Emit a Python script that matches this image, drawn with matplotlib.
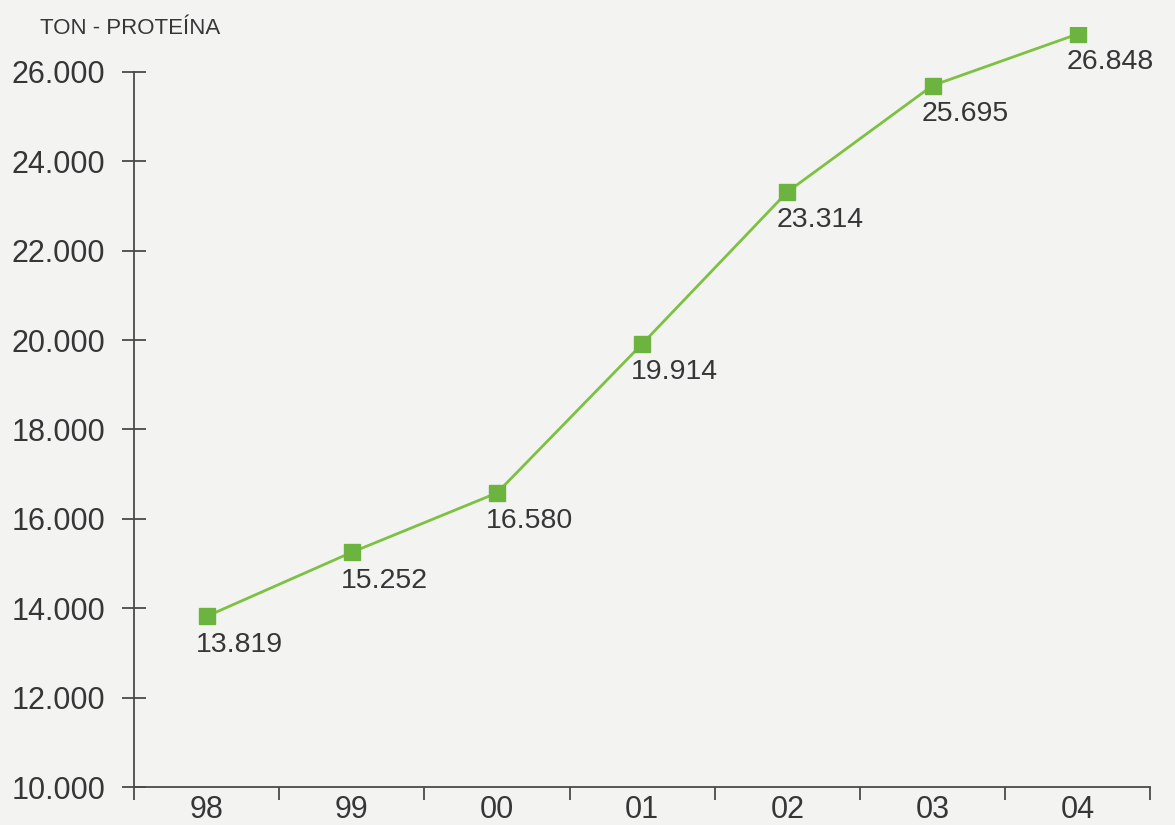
import matplotlib.pyplot as plt

# Data
years = ["98", "99", "00", "01", "02", "03", "04"]
tons = [13819, 15252, 16580, 19914, 23314, 25695, 26848]
point_labels = ["13.819", "15.252", "16.580", "19.914", "23.314", "25.695", "26.848"]
y_ticks = [10000, 12000, 14000, 16000, 18000, 20000, 22000, 24000, 26000]
y_tick_labels = ["10.000", "12.000", "14.000", "16.000", "18.000", "20.000",
                 "22.000", "24.000", "26.000"]

plt.rcParams['font.family'] = ['Liberation Sans', 'DejaVu Sans']
text_color = "#363636"
axis_color = "#4a4a4a"
bg = "#f3f4f2"

fig = plt.figure(figsize=(11.75, 8.25), dpi=100, facecolor=bg)
ax = fig.add_axes([0.114, 0.046, 0.865, 0.921])
ax.set_facecolor(bg)

x = list(range(len(years)))
ax.plot(x, tons, color="#7dc142", linewidth=2.0, marker="s", markersize=11,
        markerfacecolor="#6cb33f", markeredgecolor="#6cb33f", zorder=3)

for xi, yi, lab in zip(x, tons, point_labels):
    ax.annotate(lab, (xi, yi), xytext=(-8, -11), textcoords="offset points",
                ha="left", va="top", fontsize=20.5, color=text_color)

ax.set_xlim(-0.5, len(years) - 0.5)
ax.set_ylim(10000, 27000)

# spines
for s in ["top", "right"]:
    ax.spines[s].set_visible(False)
ax.spines["left"].set_bounds(10000, 26000)
ax.spines["left"].set_color(axis_color)
ax.spines["bottom"].set_color(axis_color)
ax.spines["left"].set_linewidth(1.3)
ax.spines["bottom"].set_linewidth(1.3)

# y ticks crossing the axis
ax.set_yticks(y_ticks)
ax.set_yticklabels(y_tick_labels)
ax.tick_params(axis="y", direction="inout", length=17, width=1.3, color=axis_color,
               labelsize=22, labelcolor=text_color, pad=12)

# x ticks at category boundaries, labels at centers
ax.set_xticks([i - 0.5 for i in range(len(years) + 1)])
ax.set_xticklabels([])
ax.tick_params(axis="x", which="major", direction="out", length=9, width=1.3,
               color=axis_color)
ax.set_xticks(x, minor=True)
ax.set_xticklabels(years, minor=True)
ax.tick_params(axis="x", which="minor", length=0, labelsize=22,
               labelcolor=text_color, pad=6)

fig.text(0.034, 0.966, "TON - PROTEÍNA", fontsize=16, color=text_color,
         ha="left", va="center")

fig.savefig("out.png", dpi=100, facecolor=bg)
